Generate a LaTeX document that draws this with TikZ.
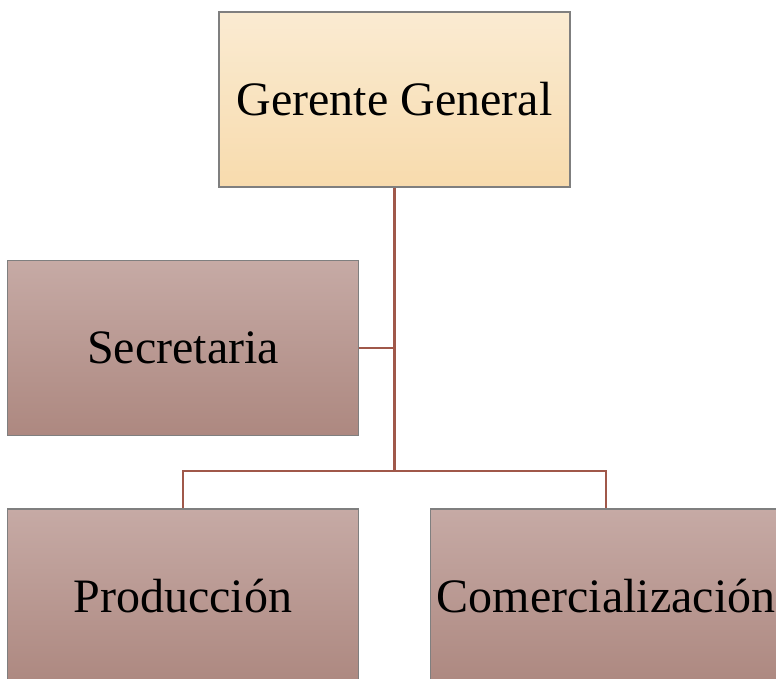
\documentclass[tikz,border=0pt]{standalone}
\usepackage{fontspec}
\setmainfont{Liberation Serif}
\definecolor{lineC}{HTML}{A0584A}
\definecolor{borderC}{HTML}{7F7F7F}
\definecolor{ggTop}{HTML}{FAEBD2}
\definecolor{ggBot}{HTML}{F8DBAD}
\definecolor{brTop}{HTML}{C6AAA5}
\definecolor{brBot}{HTML}{AD8880}
\begin{document}
\begin{tikzpicture}[x=1pt,y=-1pt,
  box/.style={rectangle, draw=borderC, line width=1.4pt, minimum width=351pt, minimum height=175pt, inner sep=0pt, font=\fontsize{48}{56}\selectfont, text=black},
  topbox/.style={box, top color=ggTop, bottom color=ggBot},
  brbox/.style={box, top color=brTop, bottom color=brBot},
  conn/.style={draw=lineC, line width=2.6pt}]
\useasboundingbox (0,0) rectangle (776,679);
\clip (0,0) rectangle (776,679);
\fill[white] (0,0) rectangle (776,679);
\node[topbox] (gg) at (394.5,99.5) {Gerente General};
\node[brbox] (sec) at (183,348) {Secretaria};
\node[brbox] (prod) at (183,596.5) {Producción};
\node[brbox] (com) at (606,596.5) {Comercialización};
\coordinate (j) at (394.5,471);
\draw[conn] (gg.south) -- (j);
\draw[conn] (sec.east) -- (sec.east -| j);
\draw[conn] (prod.north) -- (prod.north |- j) -- (com.north |- j) -- (com.north);
\end{tikzpicture}
\end{document}
